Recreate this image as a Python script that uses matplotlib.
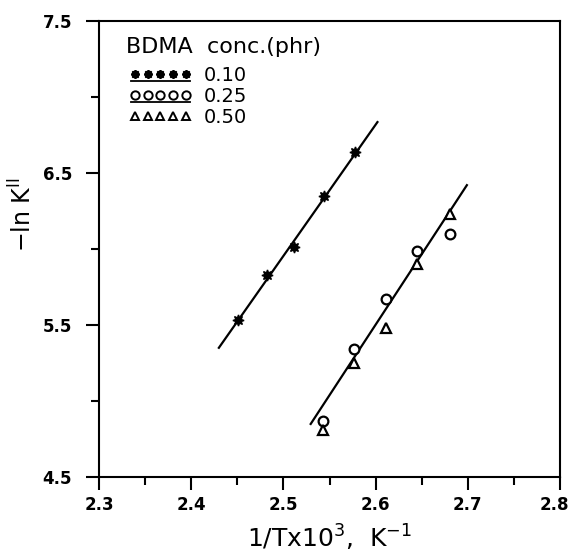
import numpy as np
import matplotlib
matplotlib.use("Agg")
import matplotlib.pyplot as plt
import matplotlib.transforms as mtransforms
from matplotlib.lines import Line2D
from matplotlib.ticker import FixedLocator

plt.rcParams["font.family"] = ["DejaVu Sans"]
plt.rcParams["mathtext.fontset"] = "dejavusans"
plt.rcParams["axes.unicode_minus"] = True

# data: 1/T x 10^3 vs -ln K
x_010 = [2.451, 2.482, 2.512, 2.544, 2.578]
y_010 = [5.53, 5.83, 6.01, 6.35, 6.64]

x_025 = [2.543, 2.577, 2.611, 2.645, 2.681]
y_025 = [4.87, 5.34, 5.67, 5.99, 6.10]

x_050 = [2.543, 2.577, 2.611, 2.645, 2.681]
y_050 = [4.81, 5.25, 5.48, 5.90, 6.23]

# straight lines drawn through the data (end points)
line1_x = [2.430, 2.602]
line1_y = [5.35, 6.835]
line2_x = [2.5296, 2.699]
line2_y = [4.849, 6.42]

conc_labels = ["0.10", "0.25", "0.50"]

x_major = [2.3, 2.4, 2.5, 2.6, 2.7, 2.8]
x_minor = [2.35, 2.45, 2.55, 2.65, 2.75]
y_major = [4.5, 5.5, 6.5, 7.5]
y_minor = [5.0, 6.0, 7.0]

STAR = (8, 1, 0)


class MarkerRow:
    # five markers in a row, optionally underlined (like the original key)
    def __init__(self, marker, filled, underline):
        self.marker = marker
        self.filled = filled
        self.underline = underline


class MarkerRowHandler:
    def legend_artist(self, legend, orig_handle, fontsize, handlebox):
        x0, y0 = handlebox.xdescent, handlebox.ydescent
        w, h = handlebox.width, handlebox.height
        xs = np.linspace(x0 + 7, x0 + w - 3, 5)
        yc = y0 + h / 2
        face = "black" if orig_handle.filled else "white"
        m = Line2D(xs, [yc] * 5, ls="none", marker=orig_handle.marker,
                   ms=6, mfc=face, mec="black", mew=1.4,
                   transform=handlebox.get_transform())
        handlebox.add_artist(m)
        if orig_handle.underline:
            u = Line2D([x0 + 4, x0 + w], [yc - 4.5, yc - 4.5], color="black", lw=1.3,
                       transform=handlebox.get_transform())
            handlebox.add_artist(u)
        return m


fig = plt.figure(figsize=(5.71, 5.52), dpi=100)
ax = fig.add_axes([99 / 571, 75 / 552, 461 / 571, 456 / 552])

ax.plot(line1_x, line1_y, color="black", lw=1.6)
ax.plot(line2_x, line2_y, color="black", lw=1.6)

ax.plot(x_010, y_010, ls="none", marker=STAR, ms=8, mfc="black", mec="black", mew=1)
ax.plot(x_025, y_025, ls="none", marker="o", ms=7, mfc="white", mec="black", mew=1.6)
ax.plot(x_050, y_050, ls="none", marker="^", ms=7, mfc="white", mec="black", mew=1.6)

ax.set_xlim(2.3, 2.8)
ax.set_ylim(4.5, 7.5)
ax.xaxis.set_major_locator(FixedLocator(x_major))
ax.xaxis.set_minor_locator(FixedLocator(x_minor))
ax.yaxis.set_major_locator(FixedLocator(y_major))
ax.yaxis.set_minor_locator(FixedLocator(y_minor))
ax.set_xticklabels([f"{v:.1f}" for v in x_major])
ax.set_yticklabels([f"{v:.1f}" for v in y_major])

for s in ax.spines.values():
    s.set_linewidth(1.5)
ax.tick_params(which="major", direction="out", length=9.5, width=1.5, labelsize=12)
ax.tick_params(which="minor", direction="out", length=6, width=1.5)
ax.tick_params(axis="y", which="major", pad=10)
ax.tick_params(axis="x", which="major", pad=4)
for lab in ax.get_xticklabels() + ax.get_yticklabels():
    lab.set_fontweight("bold")

# last x label sits a little left so it stays inside the picture
last = ax.get_xticklabels()[-1]
last.set_transform(last.get_transform() + mtransforms.ScaledTranslation(-6 / 100, 0, fig.dpi_scale_trans))

ax.set_xlabel("1/Tx10$^{3}$,  K$^{-1}$", fontsize=18)
ax.xaxis.set_label_coords(0.5, -0.1)
ax.set_ylabel("\u2212ln K$^{\\rm II}$", fontsize=17)
ax.yaxis.set_label_coords(-0.135, 0.575)

handles = [MarkerRow(STAR, True, True), MarkerRow("o", False, True), MarkerRow("^", False, False)]
leg = ax.legend(handles, conc_labels, handler_map={MarkerRow: MarkerRowHandler()},
                title="BDMA  conc.(phr)", title_fontsize=16, fontsize=14,
                loc="upper left", bbox_to_anchor=(0.024, 1.0), frameon=False,
                handlelength=3.3, handletextpad=0.7, labelspacing=0.1,
                borderpad=0.3, alignment="left")
leg._legend_box.sep = 7

fig.savefig("out.png", dpi=100)
